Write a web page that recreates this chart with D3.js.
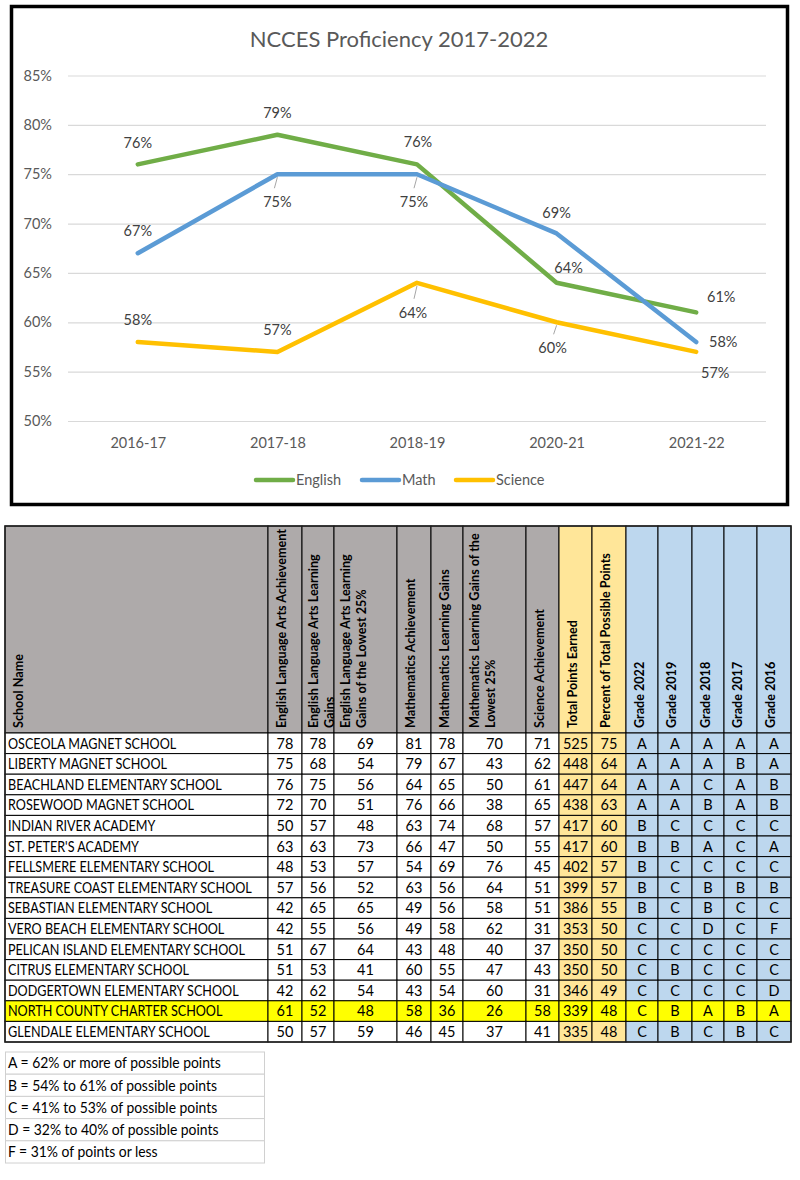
<!DOCTYPE html>
<html><head><meta charset="utf-8">
<script src="https://cdn.jsdelivr.net/npm/d3@7"></script>
<style>
body{margin:0;background:#fff;}
svg{display:block;font-family:Lato,"Open Sans",sans-serif;}
</style></head>
<body>
<script>
// ---------- Chart data ----------
const years = ["2016-17","2017-18","2018-19","2020-21","2021-22"];
const english = [76,79,76,64,61];
const math = [67,75,75,69,58];
const science = [58,57,64,60,57];
const yTicks = [50,55,60,65,70,75,80,85];
const seriesNames = ["English","Math","Science"];

// ---------- Table data ----------
const schools = ["OSCEOLA MAGNET SCHOOL","LIBERTY MAGNET SCHOOL","BEACHLAND ELEMENTARY SCHOOL","ROSEWOOD MAGNET SCHOOL","INDIAN RIVER ACADEMY","ST. PETER'S ACADEMY","FELLSMERE ELEMENTARY SCHOOL","TREASURE COAST ELEMENTARY SCHOOL","SEBASTIAN ELEMENTARY SCHOOL","VERO BEACH ELEMENTARY SCHOOL","PELICAN ISLAND ELEMENTARY SCHOOL","CITRUS ELEMENTARY SCHOOL","DODGERTOWN ELEMENTARY SCHOOL","NORTH COUNTY CHARTER SCHOOL","GLENDALE ELEMENTARY SCHOOL"];
const elaAch = [78,75,76,72,50,63,48,57,42,42,51,51,42,61,50];
const elaGains = [78,68,75,70,57,63,53,56,65,55,67,53,62,52,57];
const elaLow25 = [69,54,56,51,48,73,57,52,65,56,64,41,54,48,59];
const mathAch = [81,79,64,76,63,66,54,63,49,49,43,60,43,58,46];
const mathGains = [78,67,65,66,74,47,69,56,56,58,48,55,54,36,45];
const mathLow25 = [70,43,50,38,68,50,76,64,58,62,40,47,60,26,37];
const sciAch = [71,62,61,65,57,55,45,51,51,31,37,43,31,58,41];
const totalPoints = [525,448,447,438,417,417,402,399,386,353,350,350,346,339,335];
const pctPoints = [75,64,64,63,60,60,57,57,55,50,50,50,49,48,48];
const grade2022 = ["A","A","A","A","B","B","B","B","B","C","C","C","C","C","C"];
const grade2019 = ["A","A","A","A","C","B","C","C","C","C","C","B","C","B","B"];
const grade2018 = ["A","A","C","B","C","A","C","B","B","D","C","C","C","A","C"];
const grade2017 = ["A","B","A","A","C","C","C","B","C","C","C","C","C","B","B"];
const grade2016 = ["A","A","B","B","C","A","C","B","C","F","C","C","D","A","C"];
const headers = [
  ["School Name"],
  ["English Language Arts Achievement"],
  ["English Language Arts Learning","Gains"],
  ["English Language Arts Learning","Gains of the Lowest 25%"],
  ["Mathematics Achievement"],
  ["Mathematics Learning Gains"],
  ["Mathematics Learning Gains of the","Lowest 25%"],
  ["Science Achievement"],
  ["Total Points Earned"],
  ["Percent of Total Possible Points"],
  ["Grade 2022"],["Grade 2019"],["Grade 2018"],["Grade 2017"],["Grade 2016"]
];
const highlightSchool = "NORTH COUNTY CHARTER SCHOOL";
const gradeKey = ["A = 62% or more of possible points","B = 54% to 61% of possible points","C = 41% to 53% of possible points","D = 32% to 40% of possible points","F = 31% of points or less"];

// ---------- Drawing ----------
const svg = d3.select("body").append("svg").attr("width",800).attr("height",1180);
const colors = {English:"#70AD47", Math:"#5B9BD5", Science:"#FFC000"};
const seriesVals = {English:english, Math:math, Science:science};
// label placement: [dx, dy, leader]
const labelPlace = {
  English:[[0,-21,0],[0,-22,0],[1,-22,0],[12,-15,0],[25,-15,0]],
  Math:[[0,-22,0],[0,28,1],[-3,28,1],[0,-21,0],[27,0,0]],
  Science:[[0,-22,0],[0,-22,0],[-4,30,1],[-4,26,1],[19,21,0]]
};

// frame
svg.append("rect").attr("x",11.5).attr("y",6.5).attr("width",776).attr("height",498)
  .attr("fill","#fff").attr("stroke","#000").attr("stroke-width",3.5);

svg.append("text").attr("x",399).attr("y",47).attr("text-anchor","middle")
  .attr("font-size",22).attr("fill","#595959").text("NCCES Proficiency 2017-2022");

const x = d3.scalePoint().domain(years).range([68,766]).padding(0.5);
const y = d3.scaleLinear().domain([50,85]).range([421,75.5]);

const yAxis = svg.append("g").attr("transform","translate(68,0)")
  .call(d3.axisLeft(y).tickValues(yTicks).tickSize(-698).tickPadding(16).tickFormat(d=>d+"%"));
yAxis.select(".domain").remove();
yAxis.selectAll("line").attr("stroke","#d9d9d9").attr("stroke-width",1.2);
yAxis.selectAll("text").attr("font-size",14.5).attr("fill","#595959").attr("font-family","Lato");

const xAxis = svg.append("g").attr("transform","translate(0,421)")
  .call(d3.axisBottom(x).tickSize(0).tickPadding(17));
xAxis.select(".domain").remove();
xAxis.selectAll("text").attr("font-size",14.5).attr("fill","#595959").attr("font-family","Lato");

const line = d3.line().x((d,i)=>x(years[i])).y(d=>y(d));
seriesNames.forEach(s=>{
  svg.append("path").datum(seriesVals[s]).attr("d",line).attr("fill","none")
    .attr("stroke",colors[s]).attr("stroke-width",4.5).attr("stroke-linejoin","round").attr("stroke-linecap","round");
});
seriesNames.forEach(s=>{
  seriesVals[s].forEach((v,i)=>{
    const px = x(years[i]), py = y(v);
    const [dx,dy,lead] = labelPlace[s][i];
    if(lead){
      svg.append("line").attr("x1",px).attr("y1",py+3).attr("x2",px-3).attr("y2",py+dy-14)
        .attr("stroke","#a6a6a6").attr("stroke-width",1);
    }
    svg.append("text").attr("x",px+dx).attr("y",py+dy).attr("dy","0.35em")
      .attr("text-anchor","middle").attr("font-size",14.5).attr("fill","#404040").text(v+"%");
  });
});

// legend
const legX = {English:256, Math:362, Science:456};
seriesNames.forEach(s=>{
  svg.append("line").attr("x1",legX[s]).attr("x2",legX[s]+37).attr("y1",480).attr("y2",480)
    .attr("stroke",colors[s]).attr("stroke-width",4.5).attr("stroke-linecap","round");
  svg.append("text").attr("x",legX[s]+40).attr("y",480).attr("dy","0.35em")
    .attr("font-size",14.5).attr("fill","#595959").text(s);
});

// ---------- Table ----------
const colEdges = [5,268,302,334,397,431,463,526,559,592,626,658,692,724,757,791];
const columns = [schools,elaAch,elaGains,elaLow25,mathAch,mathGains,mathLow25,sciAch,totalPoints,pctPoints,grade2022,grade2019,grade2018,grade2017,grade2016];
const headTop = 526, headBottom = 733, tableBottom = 1042;
const row = d3.scaleBand().domain(d3.range(schools.length)).range([headBottom,tableBottom]);
const colFill = (c)=> c<8 ? "#AEAAAA" : (c<10 ? "#FFE699" : "#BDD7EE");
const bodyFill = (c)=> c<8 ? "#FFFFFF" : (c<10 ? "#FFE699" : "#BDD7EE");

const tbl = svg.append("g");
// header
headers.forEach((h,c)=>{
  const x0 = colEdges[c], w = colEdges[c+1]-x0;
  tbl.append("rect").attr("x",x0).attr("y",headTop).attr("width",w).attr("height",headBottom-headTop)
    .attr("fill",colFill(c)).attr("stroke","#000").attr("stroke-width",1);
});
headers.forEach((h,c)=>{
  const x0 = colEdges[c];
  h.forEach((t,k)=>{
    const cx = h.length===1 ? x0+13.5 : x0+12+k*16;
    tbl.append("text").attr("transform",`translate(${cx},${headBottom-5}) rotate(-90)`)
      .attr("dy","0.35em").attr("font-size",12.6).attr("font-weight","bold").attr("fill","#000").text(t);
  });
});
// body
schools.forEach((name,r)=>{
  const hl = name===highlightSchool;
  columns.forEach((col,c)=>{
    const x0 = colEdges[c], w = colEdges[c+1]-x0;
    tbl.append("rect").attr("x",x0).attr("y",row(r)).attr("width",w).attr("height",row.bandwidth())
      .attr("fill", hl ? "#FFFF00" : bodyFill(c)).attr("stroke","#000").attr("stroke-width",1);
    const cy = row(r)+row.bandwidth()/2;
    if(c===0){
      tbl.append("text").attr("transform",`translate(${x0+3},${cy}) scale(0.87,1)`)
        .attr("dy","0.36em").attr("font-size",14.5).attr("fill","#000").text(col[r]);
    } else {
      tbl.append("text").attr("x",x0+w/2).attr("y",cy).attr("dy","0.36em").attr("text-anchor","middle")
        .attr("font-size",14.5).attr("fill","#000").text(col[r]);
    }
  });
});
tbl.append("rect").attr("x",5).attr("y",headTop).attr("width",786).attr("height",tableBottom-headTop)
  .attr("fill","none").attr("stroke","#222").attr("stroke-width",1.5);

// grade key
const keyRow = d3.scaleBand().domain(d3.range(gradeKey.length)).range([1052,1163]);
gradeKey.forEach((t,i)=>{
  svg.append("rect").attr("x",5.5).attr("y",keyRow(i)).attr("width",259).attr("height",keyRow.bandwidth())
    .attr("fill","#fff").attr("stroke","#d0d0d0").attr("stroke-width",1);
  svg.append("text").attr("transform",`translate(8,${keyRow(i)+keyRow.bandwidth()/2}) scale(0.96,1)`)
    .attr("dy","0.36em").attr("font-size",14.5).attr("fill","#000").text(t);
});
</script>
</body></html>
